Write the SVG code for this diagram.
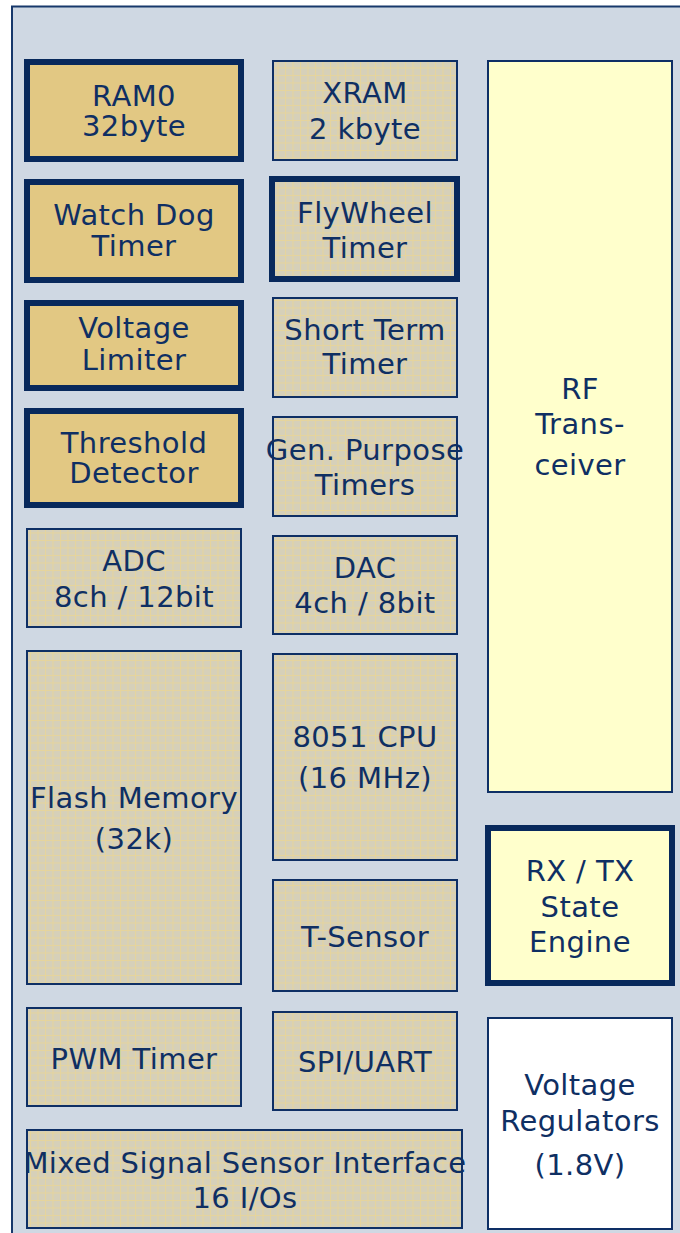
<svg xmlns="http://www.w3.org/2000/svg" width="680" height="1233" viewBox="0 0 680 1233">
<style>
text{font-family:"DejaVu Sans",Verdana,sans-serif;font-size:29px;letter-spacing:0.4px;fill:#0F2F63;text-anchor:middle}
.thick{fill:#E2C883;stroke:#08295C;stroke-width:6}
.grid{fill:url(#grid);stroke:#0E2F65;stroke-width:2}
.yel{fill:#FFFFCC;stroke:#0E2F65;stroke-width:2}
.yelthick{fill:#FFFFCC;stroke:#08295C;stroke-width:6}
.gridthick{fill:url(#grid);stroke:#08295C;stroke-width:6}
.white{fill:#FFFFFF;stroke:#0E2F65;stroke-width:2}
</style>
<defs>
<pattern id="grid" width="7.5" height="7.5" patternUnits="userSpaceOnUse">
<rect width="7.5" height="7.5" fill="#D6D0B9"/>
<path d="M0 0.5H7.5M0.5 0V7.5" stroke="#E6D49C" stroke-width="1" fill="none"/>
</pattern>
</defs>
<rect x="0" y="0" width="680" height="1233" fill="#FFFFFF"/>
<rect id="frame" x="12" y="6.5" width="700" height="1300" fill="#CFD8E3" stroke="#17386B" stroke-width="2"/>
<g id="ram0"><rect class="thick" x="27" y="62" width="214" height="97"/><text x="134" y="106">RAM0</text><text x="134" y="136">32byte</text></g>
<g id="watchdog"><rect class="thick" x="27" y="182" width="214" height="98"/><text x="134" y="225">Watch Dog</text><text x="134" y="256">Timer</text></g>
<g id="vlimiter"><rect class="thick" x="27" y="303" width="214" height="85"/><text x="134" y="338">Voltage</text><text x="134" y="370">Limiter</text></g>
<g id="threshold"><rect class="thick" x="27" y="411" width="214" height="94"/><text x="134" y="453">Threshold</text><text x="134" y="483">Detector</text></g>
<g id="adc"><rect class="grid" x="27" y="529" width="214" height="98"/><text x="134" y="571">ADC</text><text x="134" y="607">8ch / 12bit</text></g>
<g id="flash"><rect class="grid" x="27" y="651" width="214" height="333"/><text x="134" y="808">Flash Memory</text><text x="134" y="849">(32k)</text></g>
<g id="pwm"><rect class="grid" x="27" y="1008" width="214" height="98"/><text x="134" y="1069">PWM Timer</text></g>
<g id="mixed"><rect class="grid" x="27" y="1130" width="435" height="98"/><text x="245" y="1173">Mixed Signal Sensor Interface</text><text x="245" y="1208">16 I/Os</text></g>
<g id="xram"><rect class="grid" x="273" y="61" width="184" height="99"/><text x="365" y="103">XRAM</text><text x="365" y="139">2 kbyte</text></g>
<g id="flywheel"><rect class="gridthick" x="272" y="179" width="185" height="100"/><text x="365" y="223">FlyWheel</text><text x="365" y="258">Timer</text></g>
<g id="shortterm"><rect class="grid" x="273" y="298" width="184" height="99"/><text x="365" y="340">Short Term</text><text x="365" y="374">Timer</text></g>
<g id="genpurpose"><rect class="grid" x="273" y="417" width="184" height="99"/><text x="365" y="460">Gen. Purpose</text><text x="365" y="495">Timers</text></g>
<g id="dac"><rect class="grid" x="273" y="536" width="184" height="98"/><text x="365" y="578">DAC</text><text x="365" y="613">4ch / 8bit</text></g>
<g id="cpu"><rect class="grid" x="273" y="654" width="184" height="206"/><text x="365" y="747">8051 CPU</text><text x="365" y="788">(16 MHz)</text></g>
<g id="tsensor"><rect class="grid" x="273" y="880" width="184" height="111"/><text x="365" y="947">T-Sensor</text></g>
<g id="spiuart"><rect class="grid" x="273" y="1012" width="184" height="98"/><text x="365" y="1072">SPI/UART</text></g>
<g id="rf"><rect class="yel" x="488" y="61" width="184" height="731"/><text x="580" y="399">RF</text><text x="580" y="434">Trans-</text><text x="580" y="475">ceiver</text></g>
<g id="rxtx"><rect class="yelthick" x="488" y="828" width="184" height="155"/><text x="580" y="881">RX / TX</text><text x="580" y="917">State</text><text x="580" y="952">Engine</text></g>
<g id="vreg"><rect class="white" x="488" y="1018" width="184" height="211"/><text x="580" y="1095">Voltage</text><text x="580" y="1131">Regulators</text><text x="580" y="1175">(1.8V)</text></g>
<g id="connectors"/>
</svg>
